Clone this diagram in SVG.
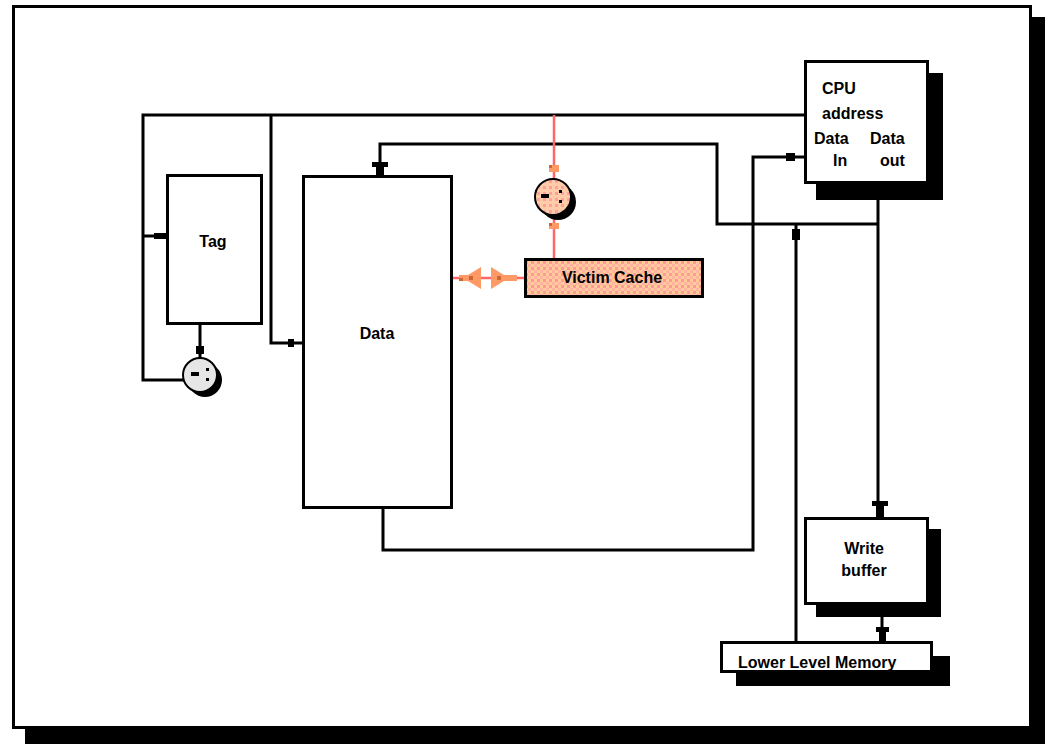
<svg xmlns="http://www.w3.org/2000/svg" width="1045" height="744" viewBox="0 0 1045 744">
<defs>
<pattern id="peach" width="6" height="6" patternUnits="userSpaceOnUse">
<rect width="6" height="6" fill="#FFCC99"/>
<rect x="0" y="0" width="3" height="3" fill="#FFB3A0"/>
<rect x="3" y="3" width="3" height="3" fill="#FF9999"/>
</pattern>
<pattern id="pinkdot" width="6" height="6" patternUnits="userSpaceOnUse">
<rect width="6" height="6" fill="#FFCCAA"/>
<rect x="3" y="0" width="3" height="3" fill="#FFA0A0"/>
</pattern>
</defs>
<style>
.box{fill:#fff;stroke:#000;stroke-width:3}
.shadow{fill:#000}
.wire{fill:none;stroke:#000;stroke-width:3}
.red{fill:none;stroke:#FF6666;stroke-width:2.5}
.mk{fill:#000}
.rmk{fill:#FF9966}
.lbl{font-family:"Liberation Sans",Arial,sans-serif;font-size:16px;font-weight:bold;fill:#000}
</style>
<rect width="1045" height="744" fill="#fff"/>
<g id="frame">
<rect x="25" y="17" width="1020" height="727" class="shadow"/>
<rect x="13.5" y="6.5" width="1017" height="721" fill="#fff" stroke="#000" stroke-width="3"/>
</g>
<g id="connectors">
<polyline class="wire" points="805,115 143,115 143,380 186,380"/>
<line class="wire" x1="143" y1="236" x2="167" y2="236"/>
<rect class="mk" x="154" y="233" width="13" height="6"/>
<polyline class="wire" points="271,115 271,343 303,343"/>
<rect class="mk" x="288" y="339" width="6" height="8"/>
<line class="wire" x1="200" y1="324" x2="200" y2="358"/>
<rect class="mk" x="196" y="346" width="8" height="8"/>
<polyline class="wire" points="380,176 380,144 717,144 717,224 878,224"/>
<rect class="mk" x="372" y="162" width="16" height="5"/>
<rect class="mk" x="376" y="167" width="8" height="9"/>
<polyline class="wire" points="383,508 383,550 753,550 753,157 805,157"/>
<rect class="mk" x="786" y="153" width="9" height="8"/>
<line class="wire" x1="878" y1="200" x2="878" y2="518"/>
<rect class="mk" x="872" y="501" width="16" height="5"/>
<rect class="mk" x="876" y="506" width="8" height="12"/>
<line class="wire" x1="796" y1="224" x2="796" y2="642"/>
<rect class="mk" x="792" y="229" width="8" height="11"/>
<line class="wire" x1="882" y1="617" x2="882" y2="642"/>
<rect class="mk" x="876" y="627" width="13" height="5"/>
<rect class="mk" x="879" y="632" width="7" height="10"/>
<line class="red" x1="554" y1="115" x2="554" y2="259"/>
<rect class="rmk" x="549" y="165" width="10" height="7"/>
<rect x="549" y="165" width="3" height="3" fill="#CC6633"/>
<rect class="rmk" x="549" y="223" width="10" height="6"/>
<rect x="549" y="223" width="3" height="3" fill="#CC6633"/>
<line class="red" x1="452" y1="278" x2="525" y2="278"/>
<path class="rmk" d="M459,275 H468 L481,267 V289 L468,281 H459 Z"/>
<rect x="469" y="276" width="4" height="4" fill="#CC6633"/>
<rect x="459" y="278" width="4" height="3" fill="#CC6633"/>
<path class="rmk" d="M491,267 L504,275 H517 V281 H504 L491,289 Z"/>
<rect x="497" y="276" width="4" height="4" fill="#CC6633"/>
</g>
<g id="tag">
<rect class="box" x="167.5" y="175.5" width="94" height="148"/>
<text class="lbl" x="213" y="247" text-anchor="middle">Tag</text>
</g>
<g id="tag-compare">
<circle cx="205" cy="380" r="17" class="shadow"/>
<circle cx="200" cy="375" r="17" fill="#E6E6E6" stroke="#000" stroke-width="2"/>
<rect x="191" y="372" width="8" height="4" fill="#000"/>
<rect x="206" y="368" width="3" height="3" fill="#000"/>
<rect x="206" y="378" width="3" height="3" fill="#000"/>
</g>
<g id="data">
<rect class="box" x="303.5" y="176.5" width="148" height="331"/>
<text class="lbl" x="377" y="339" text-anchor="middle">Data</text>
</g>
<g id="victim-compare">
<circle cx="558" cy="202" r="18" class="shadow"/>
<circle cx="553" cy="197" r="18" fill="url(#pinkdot)" stroke="#000" stroke-width="2"/>
<rect x="541" y="194" width="8" height="4" fill="#000"/>
<rect x="559" y="190" width="3" height="3" fill="#000"/>
<rect x="559" y="200" width="3" height="3" fill="#000"/>
</g>
<g id="victim-cache">
<rect x="525.5" y="259.5" width="177" height="37" fill="url(#peach)" stroke="#000" stroke-width="3"/>
<text class="lbl" x="612" y="283" text-anchor="middle">Victim Cache</text>
</g>
<g id="cpu">
<rect x="816" y="73" width="127" height="127" class="shadow"/>
<rect class="box" x="805.5" y="61.5" width="122" height="121"/>
<text class="lbl" x="822" y="94">CPU</text>
<text class="lbl" x="822" y="119">address</text>
<text class="lbl" x="814" y="144">Data</text>
<text class="lbl" x="870" y="144">Data</text>
<text class="lbl" x="833" y="166">In</text>
<text class="lbl" x="880" y="166">out</text>
</g>
<g id="write-buffer">
<rect x="816" y="529" width="125" height="88" class="shadow"/>
<rect class="box" x="805.5" y="518.5" width="122" height="85"/>
<text class="lbl" x="864" y="554" text-anchor="middle">Write</text>
<text class="lbl" x="864" y="576" text-anchor="middle">buffer</text>
</g>
<g id="lower-memory">
<rect x="736" y="656" width="214" height="30" class="shadow"/>
<rect class="box" x="721.5" y="642.5" width="210" height="29"/>
<text class="lbl" x="738" y="668">Lower Level Memory</text>
</g>
</svg>
